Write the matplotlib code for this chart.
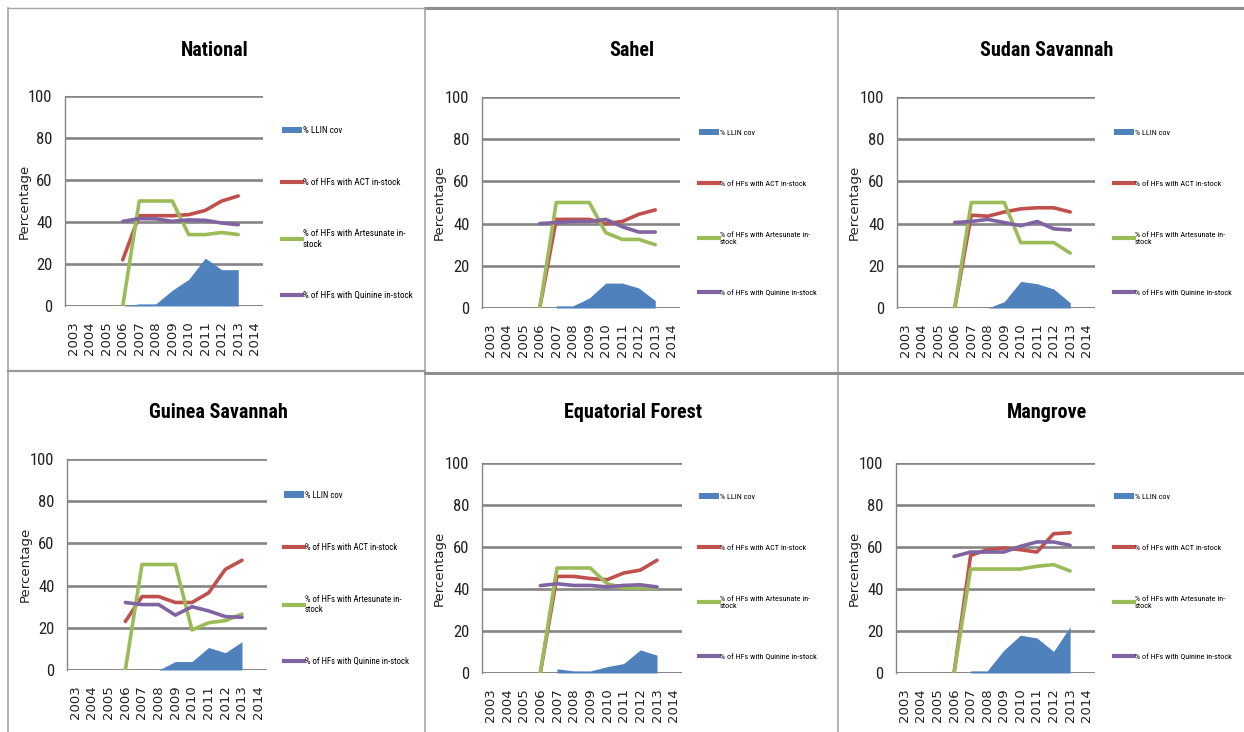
import matplotlib
matplotlib.use("Agg")
import matplotlib.pyplot as plt
from matplotlib import font_manager
from matplotlib.lines import Line2D
from matplotlib.patches import Patch
import numpy as np

# ---- data -------------------------------------------------------------
years = [2003, 2004, 2005, 2006, 2007, 2008, 2009, 2010, 2011, 2012, 2013, 2014]
data_years = [2006, 2007, 2008, 2009, 2010, 2011, 2012, 2013]
nan = np.nan

series_names = ["% LLIN cov",
                "% of HFs with ACT in-stock",
                "% of HFs with Artesunate in-\nstock",
                "% of HFs with Quinine in-stock"]

regions = ["National", "Sahel", "Sudan Savannah",
           "Guinea Savannah", "Equatorial Forest", "Mangrove"]

llin_cov = {
    "National":          [0, 1, 1, 7.5, 12.7, 22.8, 17.3, 17.3],
    "Sahel":             [nan, 1, 1, 4.7, 11.8, 11.8, 9.5, 3.5],
    "Sudan Savannah":    [nan, nan, 0, 3, 12.6, 11.5, 9, 2.5],
    "Guinea Savannah":   [nan, nan, 0, 4, 4, 10.7, 8.2, 13.4],
    "Equatorial Forest": [nan, 2, 1, 1, 3, 4.5, 11, 8.5],
    "Mangrove":          [nan, 1, 1, 10.8, 18, 16.7, 10.3, 22],
}
act_stock = {
    "National":          [22, 43, 43, 43, 43.5, 45.5, 50, 52.4],
    "Sahel":             [0, 42, 42, 42, 40, 41, 44.4, 46.5],
    "Sudan Savannah":    [0, 44, 43.5, 45.5, 47, 47.5, 47.5, 45.5],
    "Guinea Savannah":   [23, 34.8, 34.8, 32, 32, 36.6, 47.7, 52],
    "Equatorial Forest": [0, 46, 46, 45, 44.4, 47.6, 49, 53.7],
    "Mangrove":          [0, 56, 58.7, 59.5, 58.7, 57.6, 66.3, 66.8],
}
artesunate_stock = {
    "National":          [0, 50, 50, 50, 34, 34, 35, 34],
    "Sahel":             [0, 50, 50, 50, 35.7, 32.5, 32.5, 30],
    "Sudan Savannah":    [0, 50, 50, 50, 31, 31, 31, 26],
    "Guinea Savannah":   [0, 50, 50, 50, 19, 22.4, 23.4, 26.5],
    "Equatorial Forest": [0, 50, 50, 50, 42.5, 40.5, 40.5, 40.5],
    "Mangrove":          [0, 49.5, 49.5, 49.5, 49.5, 50.8, 51.6, 48.6],
}
quinine_stock = {
    "National":          [40.3, 41.6, 41.5, 40.3, 41, 40.8, 39.5, 38.7],
    "Sahel":             [40, 40.5, 41, 41, 42, 38.5, 36, 36],
    "Sudan Savannah":    [40.5, 41, 42, 40.5, 39, 41, 37.5, 37],
    "Guinea Savannah":   [32, 31, 31, 26, 30, 28, 25.3, 25],
    "Equatorial Forest": [41.6, 42.5, 41.7, 41.7, 41, 41.7, 42, 41],
    "Mangrove":          [55.5, 57.6, 57.6, 57.6, 60.3, 62.4, 62.4, 60.8],
}

# ---- styling ----------------------------------------------------------
C_BLUE, C_RED, C_GREEN, C_PURPLE = "#4F81BD", "#C0504D", "#9BBB59", "#8064A2"
GRID = "#858585"
FRAME = "#a6a6a6"


def pick_font(*names):
    avail = {f.name for f in font_manager.fontManager.ttflist}
    for n in names:
        if n in avail:
            return n
    return "DejaVu Sans"


NARROW = pick_font("Liberation Sans Narrow", "Roboto Condensed",
                   "Open Sans Condensed", "Noto Sans", "Liberation Sans")
WIDE = "DejaVu Sans"

W, H = 1244, 732
fig = plt.figure(figsize=(W / 100, H / 100), dpi=100)
fig.patch.set_facecolor("white")


def fx(x):
    return x / W


def fy(y):
    return 1 - y / H


# panel frames
def hline(x0, x1, y, lw=1.2, color=FRAME):
    fig.add_artist(Line2D([fx(x0), fx(x1)], [fy(y), fy(y)], lw=lw,
                          color=color, transform=fig.transFigure))


def vline(x, y0, y1, lw=1.2, color=FRAME):
    fig.add_artist(Line2D([fx(x), fx(x)], [fy(y0), fy(y1)], lw=lw,
                          color=color, transform=fig.transFigure))


hline(8, 425, 8, lw=1.0)
hline(425, 1244, 8, lw=2.2, color="#8f8f8f")
vline(8, 8, 732)
vline(425, 8, 732)
vline(838, 8, 732)
hline(8, 425, 371, lw=1.6, color="#9a9a9a")
hline(425, 1244, 373, lw=2.2, color="#8f8f8f")

# axes placement (pixel boxes: left, top(100), right, bottom(0))
# leg: (x of handle start, y of first entry centre, entry pitch in px)
layout = {
    "National":          dict(box=(65, 96, 263, 306), title=(215, 50), leg=(282, 132, 54), ylab=31, fs=6.6),
    "Sahel":             dict(box=(482, 97, 680, 308), title=(632, 50), leg=(699, 134, 55), ylab=446, fs=5.9),
    "Sudan Savannah":    dict(box=(897, 97, 1095, 308), title=(1047, 50), leg=(1114, 134, 55), ylab=861, fs=5.9),
    "Guinea Savannah":   dict(box=(67, 459, 267, 670), title=(218, 413), leg=(284, 496, 54), ylab=32, fs=6.3),
    "Equatorial Forest": dict(box=(482, 463, 682, 673), title=(633, 413), leg=(699, 498, 55), ylab=446, fs=5.9),
    "Mangrove":          dict(box=(896, 463, 1095, 673), title=(1047, 413), leg=(1114, 498, 55), ylab=861, fs=5.9),
}

xpos = {y: i for i, y in enumerate(years)}
dx = [xpos[y] for y in data_years]

for reg in regions:
    L = layout[reg]
    x0, y0, x1, y1 = L["box"]
    ax = fig.add_axes([fx(x0), fy(y1), fx(x1) - fx(x0), fy(y0) - fy(y1)])
    ax.set_xlim(-0.5, len(years) - 0.5)
    ax.set_ylim(0, 100)
    for s in ["top", "right", "bottom"]:
        ax.spines[s].set_visible(False)
    ax.spines["left"].set_color(GRID)
    ax.spines["left"].set_linewidth(1.0)
    ax.set_yticks([0, 20, 40, 60, 80, 100])
    ax.yaxis.grid(True, color=GRID, lw=1.9)
    ax.set_axisbelow(True)
    ax.axhline(0, color=GRID, lw=1.9, zorder=1)
    ax.tick_params(length=0)
    ax.tick_params(axis="y", pad=9)
    ax.tick_params(axis="x", pad=11)
    ax.set_xticks(range(len(years)))
    ax.set_xticklabels([str(y) for y in years], rotation=90, fontsize=9.5,
                       family=WIDE, color="#222222")
    for lab in ax.get_yticklabels():
        lab.set_fontfamily(NARROW)
        lab.set_fontsize(12)
        lab.set_color("#222222")

    # coverage area
    v = np.array(llin_cov[reg], dtype=float)
    ok = ~np.isnan(v)
    xs = np.array(dx)[ok]
    ax.fill_between(xs, 0, v[ok], color=C_BLUE, lw=0, zorder=2)

    ax.plot(dx, act_stock[reg], color=C_RED, lw=2.6, zorder=3,
            solid_capstyle="round", solid_joinstyle="round")
    ax.plot(dx, artesunate_stock[reg], color=C_GREEN, lw=2.6, zorder=4,
            solid_capstyle="round", solid_joinstyle="round")
    ax.plot(dx, quinine_stock[reg], color=C_PURPLE, lw=2.6, zorder=5,
            solid_capstyle="round", solid_joinstyle="round")

    ax.set_ylabel("Percentage", family=WIDE, fontsize=9.5, color="#222222")
    ax.yaxis.set_label_coords((L["ylab"] - x0) / (x1 - x0), 0.5)

    tx, ty = L["title"]
    fig.text(fx(tx), fy(ty), reg, ha="center", va="center",
             fontsize=14.5, fontweight="bold", family=NARROW)

    handles = [Patch(facecolor=C_BLUE, edgecolor="none"),
               Line2D([], [], color=C_RED, lw=3),
               Line2D([], [], color=C_GREEN, lw=3),
               Line2D([], [], color=C_PURPLE, lw=3)]
    lx, ly, pitch = L["leg"]
    fs = L["fs"]
    px_fs = fs * 100 / 72
    row_h = 1.25 * px_fs
    leg = ax.legend(handles, series_names, loc="upper left",
                    bbox_to_anchor=(fx(lx), fy(ly - row_h / 2)),
                    bbox_transform=fig.transFigure, frameon=False,
                    prop=dict(family=NARROW, size=fs),
                    handlelength=20 / px_fs, handleheight=0.7,
                    handletextpad=0.1,
                    labelspacing=(pitch - row_h) / px_fs,
                    borderpad=0, borderaxespad=0)

fig.savefig("out.png", dpi=100, facecolor="white")
